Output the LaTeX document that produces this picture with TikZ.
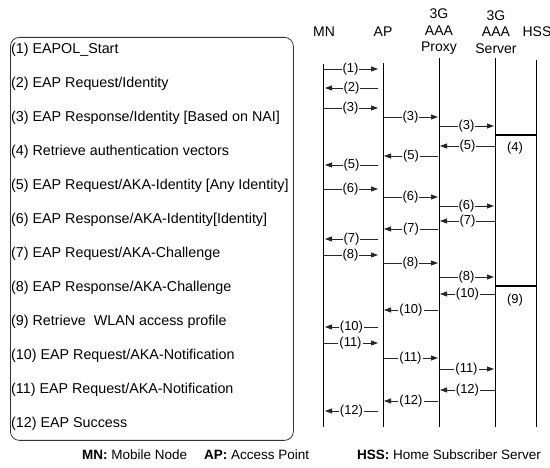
\documentclass[tikz,border=0pt]{standalone}
\usepackage{fontspec}
\setmainfont{Liberation Sans}
\usetikzlibrary{arrows.meta}
\begin{document}
\begin{tikzpicture}[x=1pt,y=-1pt,
  msg/.style={draw=black!85, line width=0.8pt, -{Triangle[length=7pt,width=5pt]}},
  lbl/.style={fill=white, inner sep=1pt, font=\fontsize{13}{13}\selectfont},
  life/.style={draw=black, line width=0.8pt},
  head/.style={font=\fontsize{14}{16.5}\selectfont, align=center, inner sep=0pt},
  row/.style={font=\fontsize{14.3}{14.3}\selectfont, anchor=west, inner sep=0pt},
  leg/.style={font=\fontsize{13.5}{13.5}\selectfont, anchor=west, inner sep=0pt},
  thick bar/.style={draw=black, line width=1.8pt},
  frame/.style={draw=black!80, line width=0.8pt, rounded corners=9pt}]
\useasboundingbox (0,0) rectangle (550,468);

% left box with message list
\node[frame, minimum width=283pt, minimum height=403pt, anchor=north west, inner sep=0pt] (box) at (10,37) {};
\foreach \i/\t [count=\k from 0] in {
  1/{(1) EAPOL\_Start},
  2/{(2) EAP Request/Identity},
  3/{(3) EAP Response/Identity [Based on NAI]},
  4/{(4) Retrieve authentication vectors},
  5/{(5) EAP Request/AKA-Identity [Any Identity]},
  6/{(6) EAP Response/AKA-Identity[Identity]},
  7/{(7) EAP Request/AKA-Challenge},
  8/{(8) EAP Response/AKA-Challenge},
  9/{(9) Retrieve\ \ WLAN access profile},
  10/{(10) EAP Request/AKA-Notification},
  11/{(11) EAP Request/AKA-Notification},
  12/{(12) EAP Success}}
  { \node[row] (r\i) at (11, 50+34*\k) {\t}; }

% headers
\node[head] (hMN) at (324,32) {MN};
\node[head] (hAP) at (383,32) {AP};
\node[head] (hPX) at (439,32) {3G\\AAA\\Proxy};
\node[head] (hSV) at (496,32) {3G\\AAA\\Server};
\node[head] (hHSS) at (537,32) {HSS};

% lifelines
\coordinate (mnT) at (323,64);  \coordinate (mnB) at (323,427);
\coordinate (apT) at (383,63);  \coordinate (apB) at (383,427);
\coordinate (pxT) at (439,58);  \coordinate (pxB) at (439,427);
\coordinate (svT) at (495,58);  \coordinate (svB) at (495,427);
\coordinate (hsT) at (536,60);  \coordinate (hsB) at (536,427);
\draw[life] (mnT) -- (mnB);
\draw[life] (apT) -- (apB);
\draw[life] (pxT) -- (pxB);
\draw[life] (svT) -- (svB);
\draw[life] (hsT) -- (hsB);

% HSS processing
\coordinate (b4a) at (495,135); \coordinate (b4b) at (536,135);
\coordinate (b9a) at (495,286); \coordinate (b9b) at (536,286);
\draw[thick bar] (b4a) -- (b4b);
\draw[thick bar] (b9a) -- (b9b);
\node[lbl, fill=none] (l4) at (515,148) {(4)};
\node[lbl, fill=none] (l9) at (515,300) {(9)};

% messages
\foreach \nm/\xa/\xb/\yy/\tt in {
  a1/323/378/69/1, a2/378/325/88/2, a3/323/378/108/3, a5/378/325/165/5,
  a6/323/378/189/6, a7/378/325/239/7, a8/323/378/255/8, a10/378/325/327/10,
  a11/323/378/343/11, a12/378/325/411/12,
  b3/383/438/117/3, b5/438/384/156/5, b6/383/438/197/6, b7/438/384/229/7,
  b8/383/438/263/8, b10/438/384/310/10, b11/383/438/358/11, b12/438/384/401/12,
  c3/439/494/126/3, c5/495/440/146/5, c6/439/494/206/6, c7/495/440/221/7,
  c8/439/494/277/8, c10/495/440/294/10, c11/439/494/369/11, c12/495/440/390/12}
{
  \coordinate (\nm s) at (\xa,\yy);
  \coordinate (\nm e) at (\xb,\yy);
  \draw[msg] (\nm s) -- node[lbl] {(\tt)} (\nm e);
}

% legend
\node[leg] (g1) at (82,455) {\textbf{MN:} Mobile Node};
\node[leg] (g2) at (204,455) {\textbf{AP:} Access Point};
\node[leg] (g3) at (357,455) {\textbf{HSS:} Home Subscriber Server};
\end{tikzpicture}
\end{document}
